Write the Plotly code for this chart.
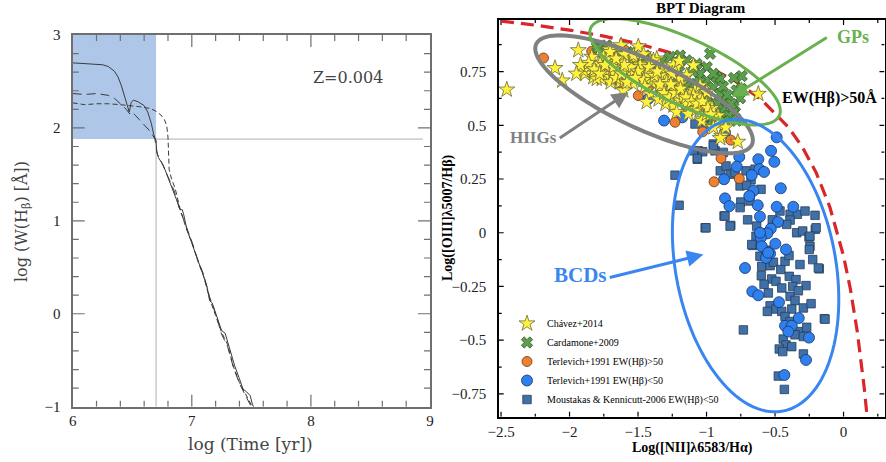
import numpy as np
import plotly.graph_objects as go

# ---------------- Left panel data: W(Hbeta) evolution ----------------
solid_t = [6.0, 6.1, 6.2, 6.25, 6.3, 6.35, 6.38, 6.41, 6.44, 6.46, 6.475, 6.49, 6.51, 6.55, 6.6, 6.63, 6.66, 6.68,
           6.70, 6.705, 6.72, 6.76, 6.80, 6.84, 6.88, 6.90, 6.92, 6.93, 6.96, 7.00, 7.04, 7.07, 7.10, 7.13, 7.15,
           7.17, 7.19, 7.22, 7.25, 7.28, 7.30, 7.33, 7.36, 7.40, 7.43, 7.46, 7.49, 7.51, 7.52]
solid_w = [2.70, 2.695, 2.69, 2.68, 2.66, 2.61, 2.55, 2.45, 2.32, 2.22, 2.17, 2.27, 2.30, 2.28, 2.24, 2.17, 2.05, 1.93,
           1.86, 1.75, 1.68, 1.60, 1.47, 1.35, 1.20, 1.12, 1.12, 1.08, 0.90, 0.76, 0.62, 0.51, 0.40, 0.28, 0.14,
           0.12, 0.04, -0.08, -0.18, -0.21, -0.30, -0.43, -0.56, -0.70, -0.81, -0.84, -0.88, -0.98, -1.0]

ldash_t = [6.0, 6.1, 6.2, 6.3, 6.35, 6.40, 6.45, 6.48, 6.50, 6.53, 6.58, 6.62, 6.66, 6.69, 6.71, 6.75, 6.80, 6.85,
           6.90, 6.95, 7.0, 7.05, 7.10, 7.15, 7.20, 7.25, 7.30, 7.35, 7.40, 7.45, 7.50]
ldash_w = [2.37, 2.36, 2.37, 2.35, 2.32, 2.26, 2.20, 2.15, 2.17, 2.13, 2.06, 2.00, 1.95, 1.88, 1.72, 1.62, 1.48, 1.33,
           1.12, 0.95, 0.78, 0.58, 0.42, 0.18, 0.0, -0.22, -0.35, -0.58, -0.75, -0.88, -1.0]

sdash_t = [6.0, 6.1, 6.2, 6.3, 6.4, 6.5, 6.55, 6.6, 6.65, 6.70, 6.74, 6.77, 6.79, 6.80, 6.805, 6.81, 6.83, 6.86,
           6.90, 6.95, 7.0, 7.05, 7.1, 7.15, 7.2, 7.25, 7.3, 7.35, 7.4, 7.45, 7.5]
sdash_w = [2.27, 2.25, 2.26, 2.26, 2.25, 2.24, 2.23, 2.22, 2.21, 2.18, 2.14, 2.09, 2.02, 1.90, 1.70, 1.55, 1.45, 1.35,
           1.14, 0.93, 0.77, 0.57, 0.40, 0.16, -0.02, -0.20, -0.33, -0.57, -0.74, -0.86, -0.98]

age_cut = 6.7
ew_cut = 1.88

# tick positions
left_x_major = [6, 7, 8, 9]
left_y_major = [-1, 0, 1, 2, 3]
bpt_x_major = [-2.5, -2, -1.5, -1, -0.5, 0]
bpt_y_major = [-0.75, -0.5, -0.25, 0, 0.25, 0.5, 0.75]

# ---------------- Right panel data: BPT diagram ----------------
kew_x = [-2.5, -2.25, -2.0, -1.75, -1.5, -1.25, -1.0, -0.8, -0.6, -0.4, -0.3, -0.2, -0.1, 0.0, 0.05, 0.1, 0.15, 0.17]
kew_y = [0.985, 0.966, 0.943, 0.915, 0.880, 0.835, 0.775, 0.710, 0.620, 0.489, 0.398, 0.280, 0.120, -0.108,
         -0.262, -0.459, -0.716, -0.843]

chavez = [(-2.458, 0.666), (-2.106, 0.766), (-2.053, 0.708), (-1.936, 0.849), (-0.622, 0.646), (-0.916, 0.545),
          (-0.89, 0.451), (-0.772, 0.423), (-1.03, 0.53), (-0.90, 0.44),
          (-1.71, 0.852), (-1.624, 0.872), (-1.498, 0.867), (-1.753, 0.818), (-1.79, 0.786), (-1.874, 0.763),
          (-1.887, 0.740), (-1.826, 0.724), (-1.765, 0.716), (-1.704, 0.724), (-1.729, 0.755), (-1.655, 0.794),
          (-1.607, 0.771), (-1.534, 0.81), (-1.485, 0.786), (-1.412, 0.802), (-1.363, 0.81), (-1.558, 0.74),
          (-1.485, 0.724), (-1.437, 0.755), (-1.631, 0.701), (-1.534, 0.693), (-1.437, 0.685), (-1.363, 0.708),
          (-1.29, 0.724), (-1.303, 0.763), (-1.218, 0.771), (-1.145, 0.732), (-1.096, 0.779), (-1.193, 0.693),
          (-1.242, 0.67), (-1.339, 0.67), (-1.412, 0.646), (-1.315, 0.638), (-1.169, 0.654), (-1.12, 0.646),
          (-1.084, 0.662), (-1.047, 0.631), (-1.193, 0.615), (-1.242, 0.592), (-1.145, 0.6), (-1.096, 0.576),
          (-1.218, 0.561), (-1.133, 0.553), (-1.047, 0.576), (-0.914, 0.506), (-1.035, 0.521),
          (-1.607, 0.662), (-1.68, 0.748), (-1.838, 0.818), (-1.437, 0.608), (-1.899, 0.755), (-1.801, 0.716),
          (-1.777, 0.786), (-1.729, 0.81), (-1.704, 0.841), (-1.68, 0.771), (-1.619, 0.802), (-1.583, 0.755),
          (-1.534, 0.825), (-1.485, 0.779), (-1.437, 0.74), (-1.388, 0.802), (-1.339, 0.732), (-1.29, 0.701),
          (-1.242, 0.779), (-1.193, 0.716), (-1.047, 0.685), (-0.998, 0.654), (-1.096, 0.638), (-1.072, 0.576),
          (-0.998, 0.553), (-1.00, 0.60), (-0.96, 0.58), (-1.30, 0.60), (-1.35, 0.62), (-1.40, 0.70), (-1.25, 0.74),
          (-1.20, 0.80), (-1.60, 0.83), (-1.46, 0.83), (-0.86, 0.49), (-0.95, 0.49),
          (-1.86, 0.79), (-1.82, 0.76), (-1.78, 0.74), (-1.74, 0.78), (-1.70, 0.70), (-1.66, 0.72), (-1.62, 0.74),
          (-1.58, 0.70), (-1.55, 0.77), (-1.50, 0.75), (-1.46, 0.71), (-1.42, 0.77), (-1.38, 0.73), (-1.34, 0.69),
          (-1.31, 0.65), (-1.27, 0.63), (-1.23, 0.65), (-1.19, 0.67), (-1.15, 0.63), (-1.11, 0.61), (-1.07, 0.60),
          (-1.03, 0.61), (-0.99, 0.58), (-0.97, 0.55), (-1.26, 0.69), (-1.36, 0.75), (-1.45, 0.68), (-1.52, 0.72),
          (-1.60, 0.78), (-1.66, 0.81), (-1.92, 0.78), (-1.95, 0.74)]

cardamone = [(-0.974, 0.833), (-0.743, 0.729), (-0.755, 0.626), (-0.745, 0.67), (-0.926, 0.724), (-0.792, 0.561),
             (-0.853, 0.553), (-1.80, 0.864), (-1.534, 0.841), (-1.437, 0.81), (-1.79, 0.861), (-1.583, 0.833),
             (-1.449, 0.825), (-1.266, 0.818), (-1.218, 0.794), (-1.145, 0.802), (-1.072, 0.786), (-0.998, 0.771),
             (-0.90, 0.716), (-1.047, 0.74), (-0.998, 0.708), (-0.95, 0.677), (-1.023, 0.662), (-0.90, 0.646),
             (-0.852, 0.615), (-0.95, 0.607), (-0.804, 0.584), (-0.877, 0.576), (-0.78, 0.662), (-0.80, 0.72),
             (-1.12, 0.693), (-1.096, 0.615), (-1.01, 0.592), (-0.938, 0.553), (-0.84, 0.545), (-0.78, 0.521),
             (-1.193, 0.825), (-1.363, 0.786), (-1.51, 0.802), (-1.655, 0.833), (-1.729, 0.872), (-1.30, 0.74),
             (-1.25, 0.70), (-1.15, 0.68), (-1.05, 0.70), (-0.95, 0.74), (-0.88, 0.68), (-0.85, 0.64), (-0.92, 0.60),
             (-1.0, 0.63), (-1.2, 0.75), (-1.33, 0.80), (-1.1, 0.75), (-0.82, 0.60), (-0.87, 0.52), (-0.96, 0.52),
             (-1.0, 0.57)]

terlevich_hi = [(-2.19, 0.813), (-1.838, 0.844), (-1.631, 0.697), (-1.498, 0.638), (-1.23, 0.514), (-1.028, 0.47),
                (-0.823, 0.431), (-0.894, 0.346), (-0.945, 0.237), (-0.761, 0.252), (-1.595, 0.849), (-1.753, 0.755),
                (-1.68, 0.75), (-1.42, 0.68), (-1.21, 0.70), (-1.145, 0.576), (-1.692, 0.755), (-1.52, 0.77),
                (-1.30, 0.66), (-1.10, 0.63)]

terlevich_lo = [(-1.425, 0.623), (-1.31, 0.522), (-1.177, 0.537), (-0.865, 0.467), (-0.488, 0.444), (-0.529, 0.381),
                (-0.505, 0.33), (-0.761, 0.353), (-0.622, 0.342), (-0.78, 0.308), (-0.614, 0.296), (-0.58, 0.283),
                (-0.67, 0.268), (-0.872, 0.249), (-0.458, 0.207), (-0.658, 0.195), (-0.688, 0.171), (-0.865, 0.16),
                (-0.833, 0.124), (-0.626, 0.128), (-0.488, 0.121), (-0.367, 0.121), (-0.61, 0.075), (-0.478, 0.05),
                (-0.531, 0.019), (-0.556, -0.003), (-0.604, -0.023), (-0.498, -0.051), (-0.597, -0.063),
                (-0.42, -0.078), (-0.536, -0.097), (-0.566, -0.117), (-0.719, -0.164), (-0.666, -0.273),
                (-0.622, -0.291), (-0.471, -0.323), (-0.327, -0.397), (-0.427, -0.433), (-0.378, -0.433),
                (-0.403, -0.46), (-0.252, -0.488), (-0.274, -0.592), (-0.432, -0.662), (-0.55, -0.093), (-0.61, 0.0)]

moustakas = [(-1.084, 0.506), (-0.974, 0.506), (-1.06, 0.381), (-1.028, 0.377), (-1.067, 0.342), (-0.95, 0.413),
             (-0.938, 0.381), (-0.877, 0.374), (-0.90, 0.288), (-0.858, 0.311), (-0.828, 0.272), (-0.792, 0.28),
             (-0.712, 0.288), (-0.675, 0.246), (-0.646, 0.296), (-0.755, 0.218), (-0.707, 0.221), (-0.602, 0.202),
             (-0.75, 0.143), (-0.682, 0.148), (-0.755, 0.117), (-0.872, 0.078), (-0.823, 0.034), (-1.01, 0.023),
             (-0.464, 0.101), (-0.39, 0.086), (-0.337, 0.086), (-0.281, 0.101), (-0.208, 0.081), (-0.39, 0.059),
             (-0.415, 0.039), (-0.634, 0.031), (-0.342, 0.0), (-0.298, 0.008), (-0.252, -0.02), (-0.206, 0.016),
             (-0.245, -0.063), (-0.225, -0.125), (-0.663, -0.059), (-0.639, -0.016), (-0.61, -0.109),
             (-0.566, -0.081), (-0.597, -0.156), (-0.536, -0.153), (-0.512, -0.137), (-0.458, -0.171),
             (-0.427, -0.133), (-0.398, -0.106), (-0.318, -0.148), (-0.177, -0.168), (-0.524, -0.215),
             (-0.493, -0.226), (-0.396, -0.203), (-0.347, -0.218), (-0.371, -0.25), (-0.451, -0.257),
             (-0.274, -0.246), (-0.549, -0.28), (-0.39, -0.296), (-0.354, -0.315), (-0.536, -0.34), (-0.556, -0.366),
             (-0.493, -0.355), (-0.451, -0.366), (-0.378, -0.355), (-0.293, -0.35), (-0.237, -0.33), (-0.427, -0.39),
             (-0.39, -0.413), (-0.14, -0.40), (-0.731, -0.452), (-0.318, -0.46), (-0.269, -0.44), (-0.354, -0.475),
             (-0.293, -0.483), (-0.44, -0.495), (-0.42, -0.522), (-0.378, -0.53), (-0.469, -0.541), (-0.444, -0.553),
             (-0.293, -0.564), (-0.476, -0.667), (-0.432, -0.729), (-1.23, 0.268), (-1.20, 0.128), (-1.004, 0.023),
             (-0.865, 0.078), (-0.828, 0.031), (-1.096, 0.381), (-1.067, 0.346), (-0.95, 0.405), (-0.184, -0.164),
             (-0.135, -0.402), (-0.20, 0.023), (-0.245, -0.016), (-0.25, -0.078), (-0.67, -0.055), (-1.01, 0.498),
             (-0.56, 0.0), (-0.52, 0.06), (-0.70, 0.06), (-0.60, -0.20), (-0.58, -0.24), (-0.33, -0.27)]

# ellipse descriptors: centre (data), semi-axes (px), tilt (deg, screen)
ell_gps = dict(cx=-1.157, cy=0.749, a=104, b=33, ang=25, color="#69b04f", width=3)
ell_hiig = dict(cx=-1.456, cy=0.644, a=119, b=34, ang=25, color="#808080", width=4)
ell_bcd = dict(cx=-0.642, cy=-0.153, a=148, b=80, ang=79.4, color="#3a86f0", width=3)

# ---------------- layout geometry ----------------
W, H = 886, 462
L_dom_x = [72.7 / W, 430 / W]
L_dom_y = [1 - 406.7 / H, 1 - 35 / H]
R_dom_x = [498.7 / W, 884.5 / W]
R_dom_y = [1 - 416.7 / H, 1 - 20 / H]
L_xrange = [6, 9]
L_yrange = [-1, 3]
R_xrange = [-2.517, 0.299]
R_yrange = [-0.856, 0.99]

serif = "Liberation Serif"
lserif = "DejaVu Serif"
fig = go.Figure()

# pixel scales (px per data unit)
Lsx = (L_dom_x[1] - L_dom_x[0]) * W / (L_xrange[1] - L_xrange[0])
Lsy = (L_dom_y[1] - L_dom_y[0]) * H / (L_yrange[1] - L_yrange[0])
sx = (R_dom_x[1] - R_dom_x[0]) * W / (R_xrange[1] - R_xrange[0])
sy = (R_dom_y[1] - R_dom_y[0]) * H / (R_yrange[1] - R_yrange[0])


def tick_trace(xa, ya, xr, yr, pxx, pxy, xvals, yvals, xlen, ylen, color, width):
    xs, ys = [], []
    dy = ylen / pxy  # x-ticks: vertical length in data units
    for v in xvals:
        xs += [v, v, None, v, v, None]
        ys += [yr[0], yr[0] + dy, None, yr[1], yr[1] - dy, None]
    dx = xlen / pxx  # y-ticks: horizontal length in data units
    for v in yvals:
        xs += [xr[0], xr[0] + dx, None, xr[1], xr[1] - dx, None]
        ys += [v, v, None, v, v, None]
    return go.Scatter(x=xs, y=ys, mode="lines", line=dict(color=color, width=width), xaxis=xa, yaxis=ya,
                      showlegend=False, hoverinfo="skip", connectgaps=False)


left_x_minor = [v for v in np.round(np.arange(6.2, 9.0, 0.2), 3) if v not in left_x_major]
left_y_minor = [v for v in np.round(np.arange(-0.8, 3.0, 0.2), 3) if v not in left_y_major]
bpt_x_minor = [-2.25, -1.75, -1.25, -0.75, -0.25, 0.25]
bpt_y_minor = [-0.625, -0.375, -0.125, 0.125, 0.375, 0.625, 0.875]

lax = "#6f6f6f"

# left panel shaded selection region drawn first
# left panel curves
line_col = "#3a3a3a"
fig.add_trace(go.Scatter(x=solid_t, y=solid_w, mode="lines", line=dict(color=line_col, width=1),
                         xaxis="x", yaxis="y", showlegend=False, hoverinfo="skip"))
fig.add_trace(go.Scatter(x=ldash_t, y=ldash_w, mode="lines", line=dict(color=line_col, width=1, dash="9px,5px"),
                         xaxis="x", yaxis="y", showlegend=False, hoverinfo="skip"))
fig.add_trace(go.Scatter(x=sdash_t, y=sdash_w, mode="lines", line=dict(color=line_col, width=1, dash="5px,3px"),
                         xaxis="x", yaxis="y", showlegend=False, hoverinfo="skip"))

# tick marks (inward, both sides)
fig.add_trace(tick_trace("x", "y", L_xrange, L_yrange, Lsx, Lsy, left_x_major[1:-1], left_y_major[1:-1],
                         12, 12, lax, 1.2))
fig.add_trace(tick_trace("x", "y", L_xrange, L_yrange, Lsx, Lsy, left_x_minor, left_y_minor, 6, 6, lax, 1.2))
fig.add_trace(tick_trace("x2", "y2", R_xrange, R_yrange, sx, sy, bpt_x_major, bpt_y_major, 5, 5, "black", 1.2))
fig.add_trace(tick_trace("x2", "y2", R_xrange, R_yrange, sx, sy, bpt_x_minor, bpt_y_minor, 3, 3, "black", 1.2))

# right panel: Kewley line
fig.add_trace(go.Scatter(x=kew_x, y=kew_y, mode="lines", line=dict(color="#d9262a", width=3.2, dash="13px,7px"),
                         xaxis="x2", yaxis="y2", showlegend=False, hoverinfo="skip"))


def add_pts(pts, name, symbol, size, color, lcolor, rank, lw=0.8):
    fig.add_trace(go.Scatter(
        x=[p[0] for p in pts], y=[p[1] for p in pts], mode="markers", name=name,
        marker=dict(symbol=symbol, size=size, color=color, line=dict(color=lcolor, width=lw)),
        xaxis="x2", yaxis="y2", legendrank=rank))


add_pts(moustakas, "Moustakas & Kennicutt-2006 EW(H\u03b2)<50", "square", 8.5, "#3f70a8", "#2a3f5a", 5)
add_pts(terlevich_lo, "Terlevich+1991 EW(H\u03b2)<50", "circle", 11, "#2f80ef", "#1b3566", 4)
add_pts(terlevich_hi, "Terlevich+1991 EW(H\u03b2)>50", "circle", 10, "#f07f2e", "#5a3a20", 3)
add_pts(cardamone, "Cardamone+2009", "x", 10, "#5c9e4c", "#2e5a28", 2)
add_pts(chavez, "Ch\u00e1vez+2014", "star", 12, "#fff23c", "#6b6b3a", 1)


def ellipse_path(e, n=120):
    t = np.linspace(0, 2 * np.pi, n)
    th = np.deg2rad(e["ang"])
    dx = e["a"] * np.cos(t) * np.cos(th) - e["b"] * np.sin(t) * np.sin(th)
    dy = e["a"] * np.cos(t) * np.sin(th) + e["b"] * np.sin(t) * np.cos(th)
    xs = e["cx"] + dx / sx
    ys = e["cy"] - dy / sy
    return "M " + " L ".join(f"{x:.4f},{y:.4f}" for x, y in zip(xs, ys)) + " Z"


shapes = [
    dict(type="rect", xref="x", yref="y", x0=6, x1=age_cut, y0=ew_cut, y1=3, fillcolor="#aec7e9",
         line=dict(width=0), layer="below"),
    dict(type="line", xref="x", yref="y", x0=age_cut, x1=age_cut, y0=-1, y1=ew_cut,
         line=dict(color="#b0b0b0", width=1), layer="below"),
    dict(type="line", xref="x", yref="y", x0=age_cut, x1=8.94, y0=ew_cut, y1=ew_cut,
         line=dict(color="#b0b0b0", width=1), layer="below"),
]
for e in (ell_hiig, ell_gps, ell_bcd):
    shapes.append(dict(type="path", xref="x2", yref="y2", path=ellipse_path(e),
                       line=dict(color=e["color"], width=e["width"]), layer="above"))

annotations = [
    dict(text="Z=0.004", x=8.308, y=2.545, xref="x", yref="y", showarrow=False,
         font=dict(family=lserif, size=16, color="#444")),
    dict(text="<b>BPT Diagram</b>", x=701 / W, y=1 - 8 / H, xref="paper", yref="paper", showarrow=False,
         yanchor="middle", xanchor="center", font=dict(family=serif, size=15, color="black")),
    # axis titles
    dict(text="log (Time [yr])", x=250.5 / W, y=1 - 444 / H, xref="paper", yref="paper", showarrow=False,
         xanchor="center", yanchor="middle", font=dict(family=lserif, size=17, color="#444")),
    dict(text="log (W(H<sub>\u03b2</sub>) [\u00c5])", x=22 / W, y=1 - 222 / H, xref="paper", yref="paper",
         showarrow=False, textangle=-90, xanchor="center", yanchor="middle",
         font=dict(family=lserif, size=16, color="#444")),
    dict(text="<b>Log([NII]\u03bb6583/H\u03b1)</b>", x=692 / W, y=1 - 448 / H, xref="paper", yref="paper",
         showarrow=False, xanchor="center", yanchor="middle", font=dict(family=serif, size=14, color="black")),
    dict(text="<b>Log([OIII]\u03bb5007/H\u03b2)</b>", x=448 / W, y=1 - 218 / H, xref="paper", yref="paper",
         showarrow=False, textangle=-90, xanchor="center", yanchor="middle",
         font=dict(family=serif, size=14, color="black")),
    # arrows
    dict(x=-0.816, y=0.632, ax=-0.111, ay=0.913, xref="x2", yref="y2", axref="x2", ayref="y2", text="",
         showarrow=True, arrowhead=2, arrowsize=1.1, arrowwidth=3, arrowcolor="#69b04f"),
    dict(x=-1.571, y=0.654, ax=-2.082, ay=0.436, xref="x2", yref="y2", axref="x2", ayref="y2", text="",
         showarrow=True, arrowhead=2, arrowsize=1.1, arrowwidth=3, arrowcolor="#808080"),
    dict(x=-1.023, y=-0.101, ax=-1.717, ay=-0.21, xref="x2", yref="y2", axref="x2", ayref="y2", text="",
         showarrow=True, arrowhead=2, arrowsize=1.1, arrowwidth=3, arrowcolor="#3a86f0"),
    dict(text="<b>GPs</b>", x=-2.5 + (853 - 501) / 137, y=(233.3 - 38) / 214, xref="x2", yref="y2",
         showarrow=False, font=dict(family=serif, size=18, color="#69b04f")),
    dict(text="<b>EW(H\u03b2)>50\u00c5</b>", x=-2.5 + (829 - 501) / 137, y=(233.3 - 99) / 214, xref="x2",
         yref="y2", showarrow=False, font=dict(family=serif, size=16, color="black")),
    dict(text="<b>HIIGs</b>", x=-2.5 + (533 - 501) / 137, y=(233.3 - 138) / 214, xref="x2", yref="y2",
         showarrow=False, font=dict(family=serif, size=17, color="#808080")),
    dict(text="<b>BCDs</b>", x=-2.5 + (580 - 501) / 137, y=(233.3 - 275) / 214, xref="x2", yref="y2",
         showarrow=False, font=dict(family=serif, size=21, color="#3a86f0")),
]

gap = "\u2002"
fig.update_layout(
    template="none",
    width=W, height=H, margin=dict(l=0, r=0, t=0, b=0, autoexpand=False),
    paper_bgcolor="white", plot_bgcolor="white",
    font=dict(family=serif, size=15, color="#222"),
    shapes=shapes, annotations=annotations,
    xaxis=dict(domain=L_dom_x, range=L_xrange, tickmode="linear", tick0=6, dtick=1, ticks="",
               showline=True, linecolor=lax, linewidth=1.5, mirror=True,
               showgrid=False, zeroline=False, automargin=False, anchor="y"),
    yaxis=dict(domain=L_dom_y, range=L_yrange, tickmode="linear", tick0=-1, dtick=1, ticks="",
               showline=True, linecolor=lax, linewidth=1.5, mirror=True, showgrid=False, zeroline=False,
               automargin=False, ticksuffix=gap, anchor="x"),
    xaxis2=dict(domain=R_dom_x, range=R_xrange, tickmode="linear", tick0=0, dtick=0.5, ticks="",
                showline=True, linecolor="black", linewidth=2, mirror=True, showgrid=False, zeroline=False,
                automargin=False, anchor="y2"),
    yaxis2=dict(domain=R_dom_y, range=R_yrange, tickmode="linear", tick0=0, dtick=0.25, ticks="",
                showline=True, linecolor="black", linewidth=2, mirror=True, showgrid=False, zeroline=False,
                automargin=False, ticksuffix=gap, anchor="x2"),
    legend=dict(x=507 / W, y=1 - 414 / H, xanchor="left", yanchor="bottom", bgcolor="rgba(0,0,0,0)",
                font=dict(family=serif, size=10, color="black"), tracegroupgap=0, itemwidth=30),
)

fig.write_html("out.html")
